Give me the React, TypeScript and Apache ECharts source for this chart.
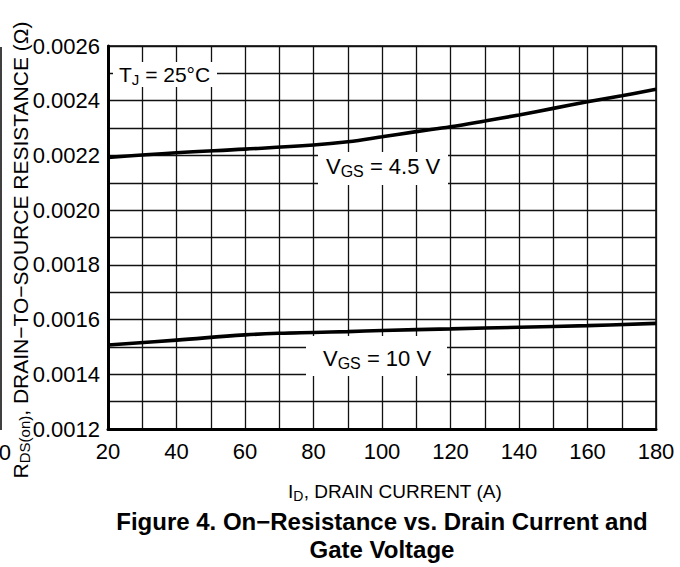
import React, { useEffect, useRef } from "react";
import * as echarts from "echarts";

const xTicks = [20, 40, 60, 80, 100, 120, 140, 160, 180];
const yTickLabels = ["0.0012", "0.0014", "0.0016", "0.0018", "0.0020", "0.0022", "0.0024", "0.0026"];

const current45 = [20, 40, 60, 80, 90, 100, 110, 120, 130, 140, 150, 160, 170, 180];
const rds45 = [0.002193, 0.00221, 0.002223, 0.002238, 0.00225, 0.002268, 0.002287, 0.002305, 0.002326, 0.002348, 0.002372, 0.002396, 0.002418, 0.002442];

const current10 = [20, 40, 60, 70, 80, 90, 100, 120, 140, 160, 180];
const rds10 = [0.001507, 0.001525, 0.001544, 0.00155, 0.001553, 0.001556, 0.00156, 0.001566, 0.001572, 0.001578, 0.001586];

const FONT = '"Liberation Sans", Arial, Helvetica, sans-serif';

export default function App() {
  const ref = useRef<HTMLDivElement>(null);
  useEffect(() => {
    if (!ref.current) return;
    const chart = echarts.init(ref.current, null, { renderer: "svg" });
    const lab = (t: string, sub: string, rest: string) => `{n|${t}}{s|${sub}}{n|${rest}}`;
    const richN = (fs: number, ss: number, pad: number) => ({
      n: { fontSize: fs, fontFamily: FONT, fill: "#000", color: "#000" },
      s: { fontSize: ss, fontFamily: FONT, fill: "#000", color: "#000", padding: [pad, 0, 0, 0] },
    });
    chart.setOption({
      animation: false,
      backgroundColor: "#fff",
      grid: { left: 108, right: 24, top: 46, bottom: 138, show: true, borderColor: "#000", borderWidth: 1.5 },
      xAxis: {
        type: "value",
        min: 20,
        max: 180,
        interval: 10,
        axisLine: { show: true, lineStyle: { color: "#000", width: 3 } },
        axisTick: { show: false },
        splitLine: { show: true, lineStyle: { color: "#111", width: 1.3 } },
        axisLabel: {
          margin: 11,
          fontSize: 22,
          fontFamily: FONT,
          color: "#000",
          formatter: (v: number) => (xTicks.includes(Math.round(v)) ? String(Math.round(v)) : ""),
        },
      },
      yAxis: {
        type: "value",
        min: 0.0012,
        max: 0.0026,
        interval: 0.0001,
        axisLine: { show: true, lineStyle: { color: "#000", width: 3 } },
        axisTick: { show: false },
        splitLine: { show: true, lineStyle: { color: "#111", width: 1.3 } },
        axisLabel: {
          margin: 8,
          fontSize: 22,
          fontFamily: FONT,
          color: "#000",
          formatter: (v: number) => {
            const s = (Math.round(v * 10000) / 10000).toFixed(4);
            return yTickLabels.includes(s) ? s : "";
          },
        },
      },
      series: [
        {
          type: "line",
          data: current45.map((x, i) => [x, rds45[i]]),
          smooth: 0.4,
          symbol: "none",
          lineStyle: { color: "#000", width: 3.6 },
          z: 5,
        },
        {
          type: "line",
          data: current10.map((x, i) => [x, rds10[i]]),
          smooth: 0.4,
          symbol: "none",
          lineStyle: { color: "#000", width: 3.6 },
          z: 5,
        },
      ],
      graphic: [
        { type: "rect", z: 1, shape: { x: 113, y: 62, width: 104, height: 25 }, style: { fill: "#fff" } },
        {
          type: "text", z: 2, x: 119, y: 74,
          style: { text: lab("T", "J", " = 25°C"), rich: richN(21, 15, 10), align: "left", verticalAlign: "middle", fill: "#000" },
        },
        { type: "rect", z: 1, shape: { x: 318, y: 152, width: 130, height: 33 }, style: { fill: "#fff" } },
        {
          type: "text", z: 2, x: 326, y: 166,
          style: { text: lab("V", "GS", " = 4.5 V"), rich: richN(22, 16, 10), align: "left", verticalAlign: "middle", fill: "#000" },
        },
        { type: "rect", z: 1, shape: { x: 306, y: 336, width: 141, height: 40 }, style: { fill: "#fff" } },
        {
          type: "text", z: 2, x: 323, y: 358,
          style: { text: lab("V", "GS", " = 10 V"), rich: richN(22, 16, 10), align: "left", verticalAlign: "middle", fill: "#000" },
        },
        {
          type: "text", z: 2, x: 20, y: 250, rotation: Math.PI / 2,
          style: {
            text: lab("R", "DS(on)", ", DRAIN\u2212TO\u2212SOURCE RESISTANCE (\u03A9)"),
            rich: richN(21, 15, 9), align: "center", verticalAlign: "middle", fill: "#000",
          },
        },
        {
          type: "text", z: 2, x: 395, y: 491,
          style: { text: lab("I", "D", ", DRAIN CURRENT (A)"), rich: richN(19, 14, 10), align: "center", verticalAlign: "middle", fill: "#000" },
        },
        {
          type: "text", z: 2, x: 382, y: 521,
          style: { text: "Figure 4. On\u2212Resistance vs. Drain Current and", font: `bold 24px ${FONT}`, align: "center", verticalAlign: "middle", fill: "#000" },
        },
        {
          type: "text", z: 2, x: 382, y: 549,
          style: { text: "Gate Voltage", font: `bold 24px ${FONT}`, align: "center", verticalAlign: "middle", fill: "#000" },
        },
        {
          type: "text", z: 2, x: 11, y: 452,
          style: { text: "0", font: `22px ${FONT}`, align: "right", verticalAlign: "middle", fill: "#000" },
        },
        { type: "line", z: 2, shape: { x1: 1, y1: 47, x2: 1, y2: 430 }, style: { stroke: "#000", lineWidth: 1.5 } },
      ],
    });
    return () => chart.dispose();
  }, []);
  return <div ref={ref} style={{ width: 680, height: 567, position: "absolute", left: 0, top: 0 }} />;
}
